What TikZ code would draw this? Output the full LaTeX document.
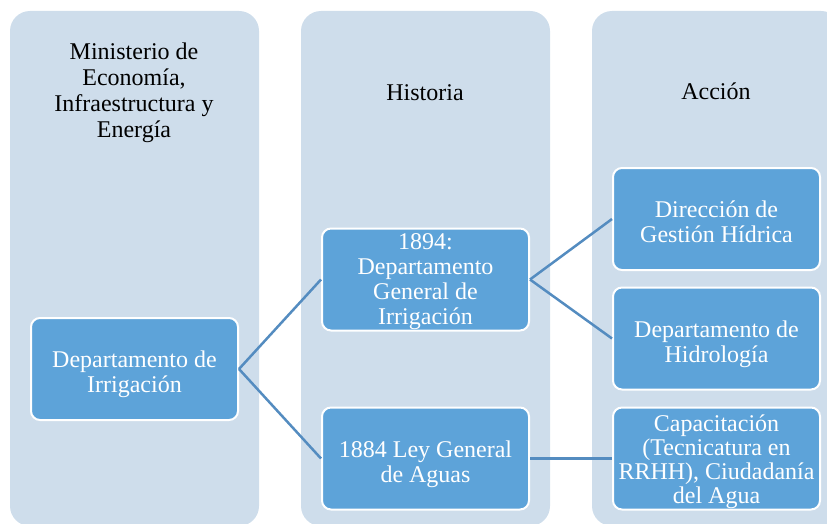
\documentclass[tikz,border=0pt]{standalone}
\usepackage{fontspec}
\setmainfont{Liberation Serif}
\definecolor{colbg}{RGB}{206,221,235}
\definecolor{boxfill}{RGB}{93,163,217}
\definecolor{linkblue}{RGB}{84,140,192}
\tikzset{
	column/.style={fill=colbg, rounded corners=20pt},
	header/.style={align=center, font=\fontsize{24}{26}\selectfont},
	item/.style={draw=white, line width=2pt, fill=boxfill, rounded corners=9pt,
		minimum width=207pt, minimum height=102pt, inner ysep=0pt, inner xsep=3pt,
		text width=200pt, align=flush center, text=white,
		font=\fontsize{24}{25}\selectfont,
		execute at begin node={\rule{0pt}{#1}},
		execute at end node={\rule[-6pt]{0pt}{0pt}}},
	item/.default=28pt,
	link/.style={draw=linkblue, line width=2.5pt}
}

\begin{document}
\begin{tikzpicture}[x=1pt,y=-1pt]
	%\draw[help lines] (0,0) grid (827,524);
	\useasboundingbox (0,0) rectangle (827,524);
	\clip (0,0) rectangle (827,524);
	\fill[column] (10,11) rectangle (259,526);%columns
	\fill[column] (301,11) rectangle (550,526);%columns
	\fill[column] (592,11) rectangle (841,526);%columns

	\node[header] (hmin) at (134,92.5) {Ministerio de\\Economía,\\Infraestructura y\\Energía};
	\node[header] (hhis) at (425,93) {Historia};
	\node[header] (hacc) at (716,91.5) {Acción};

	\node[item] (irrig) at (134.5,369) {Departamento de\\Irrigación};
	\node[item=21pt] (dgi) at (425.5,279.5) {1894:\\Departamento\\General de\\Irrigación};
	\node[item] (ley) at (425.5,458.5) {1884 Ley General\\de Aguas};
	\node[item] (gest) at (716.5,219) {Dirección de\\Gestión Hídrica};
	\node[item] (hidro) at (716.5,338.5) {Departamento de\\Hidrología};
	\node[item=23pt, font=\fontsize{24}{24}\selectfont] (capac) at (716.5,458.5) {Capacitación\\(Tecnicatura en\\RRHH), Ciudadanía\\del Agua};

	\draw[link] (irrig.east) -- (dgi.west);
	\draw[link] (irrig.east) -- (ley.west);
	\draw[link] (dgi.east) -- (gest.west);
	\draw[link] (dgi.east) -- (hidro.west);
	\draw[link] (ley.east) -- (capac.west);
\end{tikzpicture}
\end{document}
